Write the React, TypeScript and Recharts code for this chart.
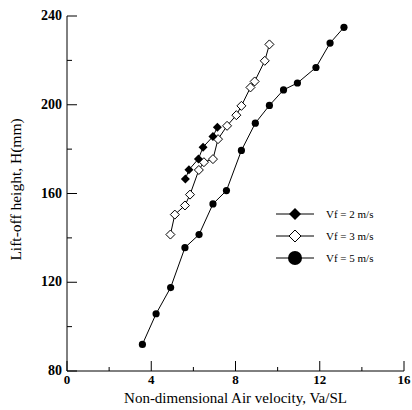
import { Legend, Scatter, ScatterChart, XAxis, YAxis } from "recharts";

// Values (lift-off height vs non-dimensional air velocity).
const vf2X = [5.62, 5.79, 6.24, 6.46, 6.93, 7.14];
const vf2Y = [166.5, 170.7, 175.6, 180.9, 185.7, 189.9];

const vf3X = [4.91, 5.12, 5.6, 5.84, 6.26, 6.5, 6.93, 7.17, 7.6, 8.04, 8.28, 8.71, 8.91, 9.39, 9.61];
const vf3Y = [141.5, 150.5, 154.6, 159.5, 170.6, 174.1, 175.5, 184.5, 190.5, 195.3, 199.5, 207.8, 210.5, 219.8, 227.2];

const vf5X = [3.58, 4.23, 4.92, 5.6, 6.27, 6.93, 7.57, 8.28, 8.94, 9.61, 10.28, 10.94, 11.82, 12.49, 13.15];
const vf5Y = [92, 105.8, 117.6, 135.6, 141.5, 155.3, 161.3, 179.4, 191.7, 199.7, 206.7, 209.8, 216.8, 227.8, 234.9];

const xTicks = [0, 2, 4, 6, 8, 10, 12, 14, 16];
const yTicks = [80, 100, 120, 140, 160, 180, 200, 220, 240];

const seriesNames = ["Vf = 2 m/s", "Vf = 3 m/s", "Vf = 5 m/s"];

const zip = (xs: number[], ys: number[]) => xs.map((x, i) => ({ x, y: ys[i] }));

const FONT = "'Liberation Serif', 'DejaVu Serif', serif";

function FilledDiamond({ cx, cy, r = 4.5 }: { cx?: number; cy?: number; r?: number }) {
  if (cx == null || cy == null) return null;
  return <path d={`M${cx},${cy - r}L${cx + r},${cy}L${cx},${cy + r}L${cx - r},${cy}Z`} fill="#000" />;
}

function OpenDiamond({ cx, cy, r = 4.5 }: { cx?: number; cy?: number; r?: number }) {
  if (cx == null || cy == null) return null;
  return (
    <path
      d={`M${cx},${cy - r}L${cx + r},${cy}L${cx},${cy + r}L${cx - r},${cy}Z`}
      fill="#fff"
      stroke="#000"
      strokeWidth={1}
    />
  );
}

function Dot({ cx, cy, r = 3.6 }: { cx?: number; cy?: number; r?: number }) {
  if (cx == null || cy == null) return null;
  return <circle cx={cx} cy={cy} r={r} fill="#000" />;
}

function XTick({ x, y, payload }: any) {
  const major = payload.value % 4 === 0;
  return (
    <g>
      <line x1={x} x2={x} y1={y} y2={y - (major ? 10 : 4)} stroke="#000" strokeWidth={1} />
      {major && (
        <text x={x} y={y + 13} textAnchor="middle" fontSize={13} fontWeight="bold" fontFamily={FONT} fill="#000">
          {payload.value}
        </text>
      )}
    </g>
  );
}

function YTick({ x, y, payload }: any) {
  const major = payload.value % 40 === 0;
  return (
    <g>
      <line x1={x} x2={x + (major ? 10 : 5)} y1={y} y2={y} stroke="#000" strokeWidth={1} />
      {major && (
        <text x={x - 5} y={y + 4} textAnchor="end" fontSize={14} fontWeight="bold" fontFamily={FONT} fill="#000">
          {payload.value}
        </text>
      )}
    </g>
  );
}

function LegendBox() {
  const markers = [
    <FilledDiamond cx={19} cy={9} r={6} />,
    <OpenDiamond cx={19} cy={9} r={6} />,
    <Dot cx={19} cy={9} r={7} />,
  ];
  return (
    <div style={{ fontFamily: FONT, fontSize: 11, color: "#000" }}>
      {seriesNames.map((name, i) => (
        <div key={name} style={{ display: "flex", alignItems: "center", height: 22 }}>
          <svg width={40} height={18}>
            <line x1={0} x2={38} y1={9} y2={9} stroke="#000" strokeWidth={1} />
            {markers[i]}
          </svg>
          <span style={{ marginLeft: 10 }}>{name}</span>
        </div>
      ))}
    </div>
  );
}

export default function App() {
  return (
    <div style={{ position: "absolute", left: 0, top: 0, background: "#fff" }}>
      <ScatterChart width={412} height={410} margin={{ top: 16, right: 8, bottom: 0, left: 0 }} style={{ fontFamily: FONT }}>
        <XAxis
          type="number"
          dataKey="x"
          domain={[0, 16]}
          ticks={xTicks}
          interval={0}
          height={39}
          tickSize={0}
          tickMargin={0}
          tickLine={false}
          tick={<XTick />}
          axisLine={{ stroke: "#000", strokeWidth: 1 }}
          label={{
            content: ({ viewBox }: any) => (
              <text
                x={viewBox.x + viewBox.width / 2}
                y={viewBox.y + 32}
                textAnchor="middle"
                fontSize={15}
                fontFamily={FONT}
                fill="#000"
              >
                Non-dimensional Air velocity, Va/SL
              </text>
            ),
          }}
        />
        <YAxis
          type="number"
          dataKey="y"
          domain={[80, 240]}
          ticks={yTicks}
          interval={0}
          width={67}
          tickSize={0}
          tickMargin={0}
          tickLine={false}
          tick={<YTick />}
          axisLine={{ stroke: "#000", strokeWidth: 1 }}
          label={{
            content: ({ viewBox }: any) => {
              const cx = viewBox.x + 21;
              const cy = viewBox.y + viewBox.height / 2 - 4;
              return (
                <text
                  x={cx}
                  y={cy}
                  transform={`rotate(-90 ${cx} ${cy})`}
                  textAnchor="middle"
                  fontSize={15.5}
                  fontFamily={FONT}
                  fill="#000"
                >
                  Lift-off height, H(mm)
                </text>
              );
            },
          }}
        />
        <Legend
          layout="horizontal"
          verticalAlign="middle"
          align="center"
          content={<LegendBox />}
          wrapperStyle={{ position: "absolute", left: 276, top: 203, width: 130 }}
        />
        <Scatter
          name={seriesNames[2]}
          data={zip(vf5X, vf5Y)}
          line={{ stroke: "#000", strokeWidth: 1 }}
          shape={<Dot />}
          isAnimationActive={false}
        />
        <Scatter
          name={seriesNames[1]}
          data={zip(vf3X, vf3Y)}
          line={{ stroke: "#000", strokeWidth: 1 }}
          shape={<OpenDiamond />}
          isAnimationActive={false}
        />
        <Scatter
          name={seriesNames[0]}
          data={zip(vf2X, vf2Y)}
          line={{ stroke: "#000", strokeWidth: 1 }}
          shape={<FilledDiamond />}
          isAnimationActive={false}
        />
      </ScatterChart>
    </div>
  );
}
